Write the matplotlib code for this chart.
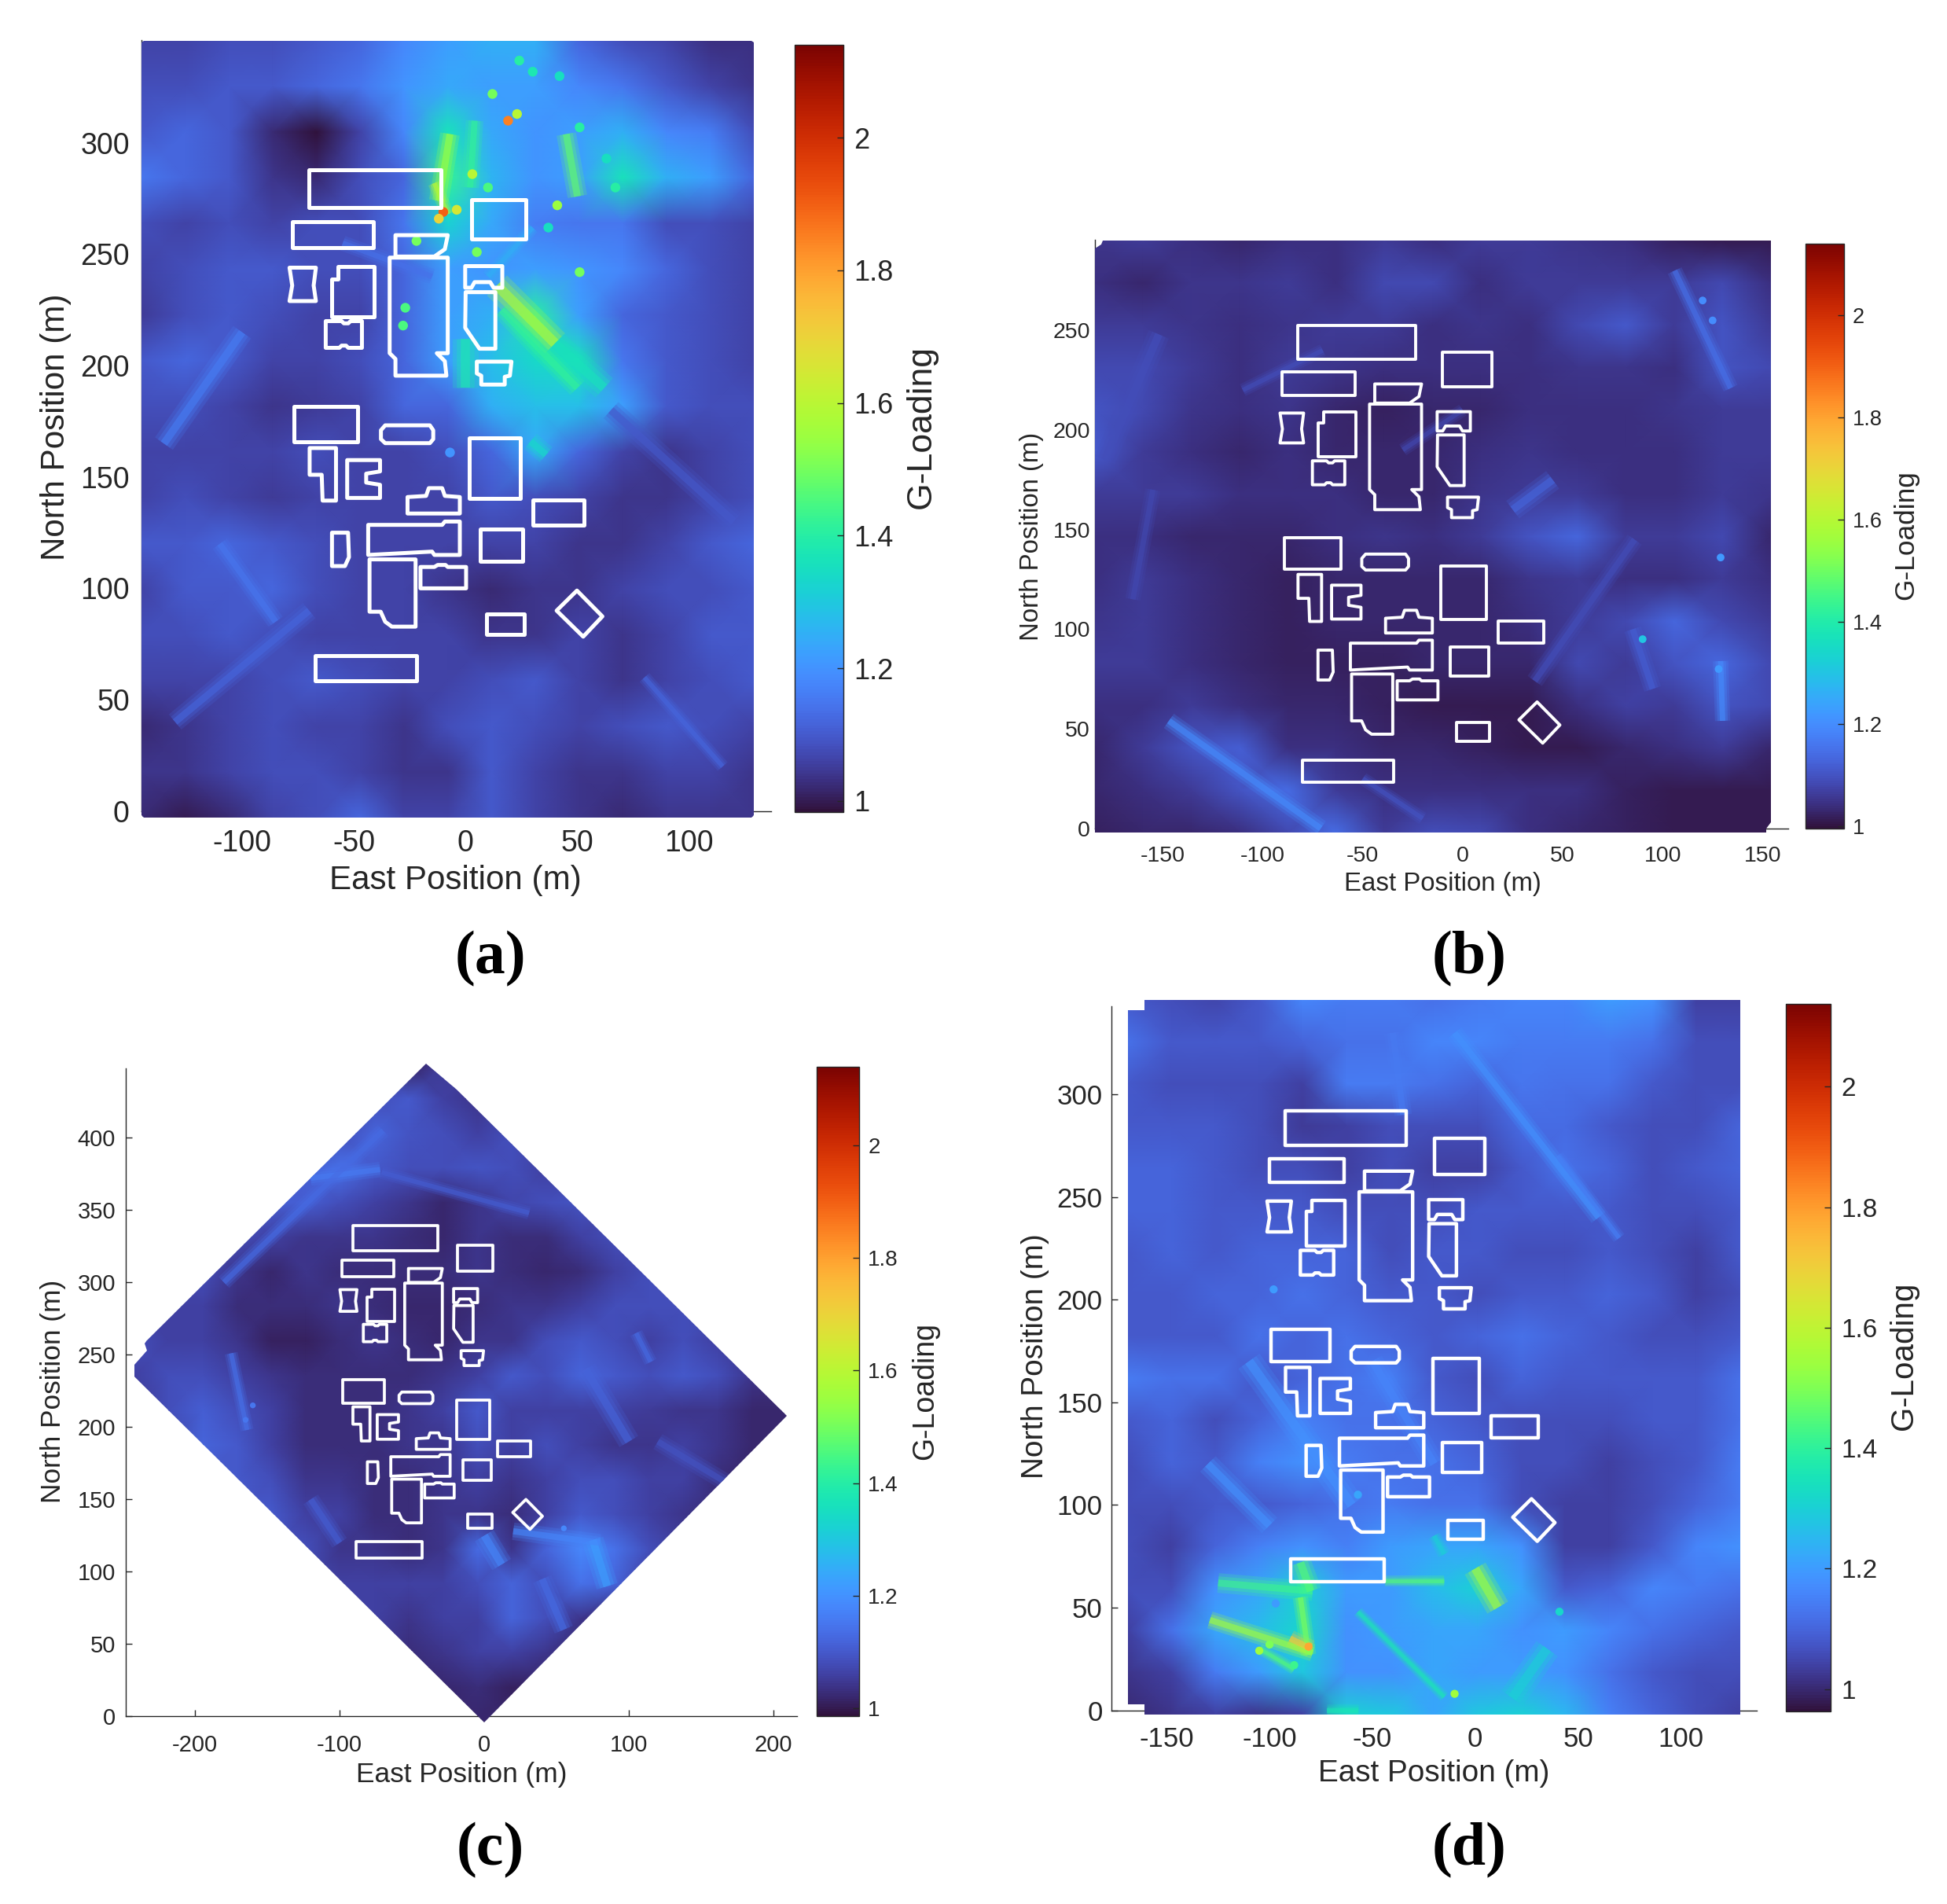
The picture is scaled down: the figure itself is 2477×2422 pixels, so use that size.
import numpy as np
import matplotlib
matplotlib.use("Agg")
import matplotlib.pyplot as plt
from matplotlib.patches import Polygon
from matplotlib.collections import LineCollection
from matplotlib.colors import Normalize
from matplotlib.cm import ScalarMappable

plt.rcParams['font.family'] = ['Liberation Sans', 'DejaVu Sans']
plt.rcParams['axes.unicode_minus'] = False
W, H = 1568.0, 1533.0   # layout units

# G-loading x100, rows from north to south, columns from west to east
grid_a = [
 [106,106,108,108,110,112,118,122,125,125,112,108,106,103,103],
 [108,108,110,110,112,115,120,124,122,122,118,115,110,106,104],
 [110,112,110,102, 98,106,118,136,124,120,122,125,118,116,108],
 [115,112,110,104,102,108,112,142,126,120,122,136,125,122,112],
 [108,106,108,106,108,108,115,132,124,116,115,115,108,108,106],
 [106,108,110,110,108,108,112,122,120,122,120,118,112,108,106],
 [105,108,110,108,106,106,112,122,125,140,122,112,110,108,106],
 [110,112,110,106,106,108,112,122,128,134,136,115,110,108,106],
 [108,108,106,104,105,106,112,112,125,128,128,122,110,108,108],
 [106,106,106,106,108,106,106,108,112,124,112,106,104,106,108],
 [106,108,106,105,106,106,106,106,110,108,106,104,104,106,108],
 [110,110,112,110,108,106,106,106,106,106,104,104,106,110,112],
 [106,110,110,112,108,106,106,104,102,104,104,106,108,108,110],
 [108,108,110,108,106,106,106,106,104,104,106,104,106,110,110],
 [106,106,106,108,110,108,106,106,108,110,106,104,106,108,110],
 [102,104,106,108,106,106,104,108,110,108,106,108,110,108,106],
 [104,104,106,108,108,106,104,104,110,106,104,104,106,106,104],
 [102,100,102,106,108,112,106,106,110,106,104,102,104,104,104],
]
grid_b = [
 [105,106,104,103,104,104,106,104,106,106,105,104,102,101,101],
 [104,103,105,105,106,104,108,108,104,106,106,106,106,108,104],
 [106,106,105,104,105,106,106,104,105,104,108,111,106,110,106],
 [108,108,106,104,106,105,104,104,104,104,105,105,104,110,108],
 [110,108,105,104,105,103,102,103,103,104,104,104,105,106,106],
 [111,106,104,103,104,103,103,103,104,105,104,104,104,106,106],
 [106,106,106,104,104,104,103,103,105,106,106,104,104,106,105],
 [104,104,103,103,103,104,105,104,106,110,113,106,106,108,103],
 [104,106,104,103,102,103,103,103,103,105,106,104,104,106,104],
 [105,106,104,103,102,103,103,103,103,104,106,108,113,108,106],
 [106,106,104,103,102,102,102,103,103,103,108,106,110,113,108],
 [104,104,106,104,103,103,102,101,101,101,104,107,106,110,108],
 [103,106,110,112,104,104,103,103,102,101,101,103,104,106,103],
 [103,104,106,110,114,106,104,104,104,104,104,102,101,101,101],
 [102,103,103,104,108,114,106,109,108,104,103,102,101,101,101],
]
grid_c = [
 [105,105,105,105,105,105,105,105,101,105,105,105,105,105,105,105,105,105,105,105],
 [105,105,105,105,105,105,105,108,110,106,104,106,106,105,105,105,105,105,105,105],
 [105,105,105,105,105,105,108,112,109,108,106,108,106,106,105,105,105,105,105,105],
 [105,105,105,105,108,111,114,110,108,108,109,108,106,106,106,105,105,105,105,105],
 [105,105,105,109,111,111,108,106,104,102,104,107,108,109,106,106,105,105,105,105],
 [105,105,108,108,106,104,104,104,103,102,104,103,103,106,108,108,105,105,105,105],
 [105,106,108,104,102,104,103,103,103,103,104,103,102,103,106,108,108,105,105,105],
 [105,106,106,103,103,103,104,103,102,102,103,104,104,106,108,108,108,108,105,105],
 [108,106,106,104,101,101,103,104,103,102,104,104,108,110,108,106,108,106,104,105],
 [106,108,108,106,104,103,103,103,103,104,106,110,108,112,110,108,110,108,104,103],
 [104,108,111,108,106,103,103,103,104,106,110,106,106,106,106,105,104,104,102,102],
 [105,105,112,110,106,103,103,103,104,104,108,106,108,106,104,104,106,104,102,102],
 [105,105,108,110,108,104,104,103,103,104,106,104,106,108,108,106,106,103,102,102],
 [105,105,105,108,110,106,106,103,103,104,104,103,106,110,108,106,104,103,102,105],
 [105,105,105,105,108,108,104,104,103,104,113,104,112,118,114,108,105,105,105,105],
 [105,105,105,105,105,106,106,106,106,106,108,112,108,114,112,105,105,105,105,105],
 [105,105,105,105,105,105,106,106,104,106,106,112,108,104,102,105,105,105,105,105],
 [105,105,105,105,105,105,105,105,103,104,106,106,104,102,102,105,105,105,105,105],
 [105,105,105,105,105,105,105,105,102,102,103,101,102,102,105,105,105,105,105,105],
 [105,105,105,105,105,105,105,105,102,102,102,102,102,105,105,105,105,105,105,105],
]
grid_d = [
 [108,106,105,108,116,114,114,112,114,116,116,120,118,104,104],
 [112,108,108,108,110,112,112,116,116,114,114,114,112,106,106],
 [108,106,106,106,104,114,114,112,110,113,112,112,108,106,106],
 [108,108,108,106,103,104,106,106,106,111,111,108,106,106,110],
 [110,110,108,106,106,104,106,104,104,108,112,110,106,108,110],
 [110,110,108,108,108,106,106,106,108,108,108,108,106,106,108],
 [108,110,108,110,110,110,106,108,108,106,106,108,106,104,108],
 [108,108,110,110,112,110,108,108,106,108,108,110,108,104,106],
 [108,108,108,112,110,112,110,108,110,112,110,108,106,106,108],
 [114,112,112,108,110,112,115,108,106,110,108,108,108,108,112],
 [108,110,106,110,115,112,112,110,108,106,106,106,108,108,112],
 [106,110,108,115,118,114,112,112,110,106,106,104,106,108,114],
 [106,106,108,108,110,112,114,112,112,106,104,104,106,110,114],
 [106,104,110,115,118,115,120,122,122,118,104,104,108,116,118],
 [106,106,118,122,130,120,120,126,130,122,108,110,116,114,112],
 [104,112,122,126,132,118,120,122,122,118,120,116,112,110,108],
 [102,104,114,120,128,118,118,122,120,120,118,112,108,106,106],
 [100,102,104,102,104,130,128,122,128,130,125,115,110,106,104],
]

# extents of each surveyed area (m)
outline_a = [(-145,-2),(-144,-3),(128,-3),(129,-2),(129,345),(128,346),(-144,346),(-145,345)]
outline_b = [(-184,-2),(152,-2),(152,0),(154,3),(154,295),(-180,295),(-181,293),(-184,291)]
outline_c = [(-40,451),(-19,433),(209,208),(0,-4),(-242,235),(-242,243),(-233,253),(-235,258),(-233,260)]
outline_d = [(-161,-2),(129,-2),(129,346),(-161,346),(-161,341),(-169,341),(-169,3),(-161,3)]

# narrow streaks: x0, y0, x1, y1, G-loading, width (pt)
streaks_a = [(-7,304,-12,274,1.55,9),(4,310,2,280,1.42,8),(14,236,40,210,1.58,13),(40,210,62,190,1.36,12),
             (45,304,50,276,1.48,9),(0,212,0,190,1.38,12),(29,166,36,160,1.34,9),(-14,282,-8,268,1.6,6),
             (10,240,30,262,1.25,6),(16,225,50,190,1.42,9),(-135,165,-100,215,1.16,10),(-110,120,-85,85,1.15,8),
             (65,180,120,130,1.1,10),(-130,40,-70,90,1.12,9),(-55,255,-15,240,1.14,7),(80,60,115,20,1.12,6)]
streaks_b = [(-147,54,-71,0,1.2,8),(106,280,134,221,1.15,7),(129,84,130,54,1.2,7),(36,74,86,145,1.09,8),
             (-179,185,-152,248,1.09,10),(-110,220,-70,240,1.09,6),(-30,190,0,210,1.08,6),(25,160,45,175,1.13,10),
             (85,100,95,70,1.12,8),(-165,115,-155,170,1.08,7),(-50,25,-20,5,1.1,6)]
streaks_c = [(-164,198,-175,251,1.14,6),(-120,372,-72,378,1.16,7),(-71,376,31,348,1.11,6),(-180,300,-70,405,1.13,7),
             (75,122,85,90,1.22,10),(20,128,80,120,1.18,8),(0,125,12,105,1.18,10),(70,240,100,190,1.12,10),
             (105,265,115,245,1.13,6),(-120,150,-100,120,1.11,8),(40,95,55,60,1.13,9),(120,190,170,160,1.09,8)]
streaks_d = [(-129,44,-79,28,1.55,8),(-85,55,-81,27,1.5,7),(-125,62,-79,58,1.42,9),(-85,72,-80,58,1.45,10),
             (-57,48,-15,6.5,1.36,5),(-44,63,-15,63,1.45,5),(0,69,11,50,1.55,11),(18,6,35,30,1.3,12),
             (-72,0,-57,0,1.36,6),(-105,30,-88,20,1.45,5),(-20,85,-15,76,1.3,6),(-90,35,-80,30,1.72,8),
             (-10,330,60,240,1.18,8),(40,270,70,230,1.15,6),(-110,170,-60,100,1.18,12),(-50,170,-20,120,1.16,10),
             (-40,330,-35,290,1.14,8),(-130,120,-100,90,1.18,10)]

# isolated cells: x, y, G-loading
cells_a = [(19,310,1.85),(-10,269,1.9),(23,313,1.6),(12,322,1.5),(51,307,1.4),(3,286,1.6),(63,293,1.35),(67,280,1.4),
           (42,330,1.35),(41,272,1.55),(-22,256,1.5),(5,251,1.5),(51,242,1.5),(-27,226,1.45),(-28,218,1.45),
           (-7,161,1.2),(-12,266,1.7),(-4,270,1.65),(24,337,1.4),(30,332,1.38),(10,280,1.45),(37,262,1.35)]
cells_b = [(90,95,1.3),(129,136,1.22),(125,255,1.2),(120,265,1.2),(128,80,1.22)]
cells_c = [(-165,205,1.15),(-160,215,1.15),(55,130,1.18)]
cells_d = [(-81,31,1.78),(-100,32,1.5),(-88,22,1.42),(-105,29,1.55),(41,48,1.32),(-10,8,1.55),(-97,52,1.2),(-57,105,1.22),(-98,205,1.2)]

# building outlines (m), in the frame of panel (a)
buildings = [
 [(-70,288),(-11,288),(-11,271),(-70,271)],
 [(-77.6,264.6),(-41.4,264.6),(-41.4,253),(-77.6,253)],
 [(2.6,274.7),(27,274.7),(27,257),(2.6,257)],
 [(-31.4,258.6),(-8,258.6),(-9.3,252.3),(-14,249),(-31.4,249)],
 [(-34,248.5),(-8,248.5),(-8,205.6),(-12.9,205.6),(-9.3,202),(-8.6,195.5),(-31.4,195.5),(-31.4,203),(-34,205.6)],
 [(-78.8,244),(-67,244),(-68,236),(-67,229),(-78.8,229),(-77.6,236)],
 [(-57,244.4),(-41,244.4),(-41,222),(-59.8,222),(-59.8,239),(-57,239)],
 [(-62.6,220),(-55.5,220),(-54.5,219),(-52.5,219),(-51.5,220),(-46.4,220),(-46.4,208),(-52.5,208),(-53.5,209),(-55.5,209),(-56.5,208),(-62.6,208)],
 [(-0.2,244.7),(16.4,244.7),(16.4,235),(12.5,235),(11,237.5),(4,237.5),(2.6,235),(-0.2,235)],
 [(0,233),(13.3,233),(13.3,207.6),(6.2,207.6),(-0.2,217)],
 [(5,201.8),(20.5,201.8),(19.8,195.5),(17.5,195),(17.5,191.5),(7,191.5),(7,195.5),(5,196.5)],
 [(-76.7,181.6),(-48.3,181.6),(-48.3,165.7),(-76.7,165.7)],
 [(-36,173.2),(-16,173.2),(-14.5,171),(-14.5,167),(-16,165.2),(-36,165.2),(-37.9,167),(-37.9,171)],
 [(1.7,167.4),(24.5,167.4),(24.5,140.4),(1.7,140.4)],
 [(-69.8,163),(-58,163),(-58,139.4),(-64,139.4),(-64.4,151),(-69.8,151)],
 [(-53,157.6),(-38.3,157.6),(-38.3,152.5),(-44.5,151.5),(-44.5,147.5),(-38.3,146.5),(-38.3,140.6),(-53,140.6)],
 [(-26,141),(-17.7,141.5),(-16.5,145),(-10.5,145),(-9.3,141.5),(-2.6,141),(-2.6,133.6),(-26,133.6)],
 [(30.2,139.6),(53,139.6),(53,128.5),(30.2,128.5)],
 [(-43.6,128.5),(-10.5,128.5),(-9.3,130),(-2.6,130),(-2.6,115),(-14,115),(-15,116.5),(-43.6,115)],
 [(6.4,126.5),(25.7,126.5),(25.7,112),(6.4,112)],
 [(-59.8,125),(-52.6,125),(-52.2,114),(-54,110),(-59.8,110)],
 [(-43,113),(-22.4,113),(-22.4,82.8),(-33,82.8),(-36,85),(-38,89.5),(-43,89.5)],
 [(-20.2,109.6),(-14,109.6),(-12.5,110.5),(-9,110.5),(-8,109.6),(0.2,109.6),(0.2,100),(-20.2,100)],
 [(9.3,88.6),(26.2,88.6),(26.2,79.3),(9.3,79.3)],
 [(49.8,99),(61.2,87.4),(52.6,78.3),(40.7,90)],
 [(-67.4,69.7),(-21.9,69.7),(-21.9,58.6),(-67.4,58.6)],
]
building_shift_a = (0, 0)
building_shift_b = (-12.6, -35.5)
building_shift_c = (-21, 51)
building_shift_d = (-22.4, 4)

xticks_a = [-100,-50,0,50,100]; yticks_a = [0,50,100,150,200,250,300]
xticks_b = [-150,-100,-50,0,50,100,150]; yticks_b = [0,50,100,150,200,250]
xticks_c = [-200,-100,0,100,200]; yticks_c = [0,50,100,150,200,250,300,350,400]
xticks_d = [-150,-100,-50,0,50,100]; yticks_d = [0,50,100,150,200,250,300]
cbar_ticks = [1,1.2,1.4,1.6,1.8,2]
cbar_labels = ['1','1.2','1.4','1.6','1.8','2']
captions = ['(a)','(b)','(c)','(d)']

panels = [
 dict(grid=grid_a, outline=outline_a, streaks=streaks_a, cells=cells_a, shift=building_shift_a, xticks=xticks_a, yticks=yticks_a,
      box=(114,621,32,653), x0=375, kx=1.8, y0=653, ky=1.793, ts=27, lab=30.3, gl=32, padx=17, pady=11, blw=3.6, ms=80,
      cb=(640,679,36,654), cbl=(0.983,2.14), cbp=10, xl=(367,709), yl=(45,344), gp=(742,344), cap=(395,772)),
 dict(grid=grid_b, outline=outline_b, streaks=streaks_b, cells=cells_b, shift=building_shift_b, xticks=xticks_b, yticks=yticks_b,
      box=(882,1440,193,667), x0=1178, kx=1.61, y0=667, ky=1.604, ts=20.5, lab=23.8, gl=25.4, padx=16, pady=4.5, blw=2.8, ms=50,
      cb=(1454,1485,196,667), cbl=(0.995,2.14), cbp=8, xl=(1162,712), yl=(831,432), gp=(1535,431), cap=(1183,772)),
 dict(grid=grid_c, outline=outline_c, streaks=streaks_c, cells=cells_c, shift=building_shift_c, xticks=xticks_c, yticks=yticks_c,
      box=(101,642,860,1382), x0=390, kx=1.165, y0=1382, ky=1.165, ts=21, lab=25.4, gl=27, padx=16, pady=9, blw=2.7, ms=28,
      cb=(658,692,859,1382), cbl=(0.985,2.14), cbp=8, xl=(372,1429), yl=(43,1120), gp=(745,1120), cap=(395,1490)),
 dict(grid=grid_d, outline=outline_d, streaks=streaks_d, cells=cells_d, shift=building_shift_d, xticks=xticks_d, yticks=yticks_d,
      box=(895,1415,810,1377), x0=1188, kx=1.656, y0=1377, ky=1.653, ts=25, lab=27.9, gl=29, padx=15, pady=8, blw=3.2, ms=55,
      cb=(1438,1474,808,1378), cbl=(0.963,2.138), cbp=10, xl=(1155,1428), yl=(834,1092), gp=(1533,1092), cap=(1183,1490)),
]

fig = plt.figure(figsize=(24.77, 24.22), dpi=100, facecolor='white')
cmap = matplotlib.colormaps['turbo']
dark = '#262626'

for p in panels:
    l, r, t, b = p['box']
    ax = fig.add_axes([l/W, 1-b/H, (r-l)/W, (b-t)/H])
    ax.set_xlim((l-p['x0'])/p['kx'], (r-p['x0'])/p['kx'])
    ax.set_ylim((p['y0']-b)/p['ky'], (p['y0']-t)/p['ky'])
    norm = Normalize(*p['cbl'])
    Z = np.array(p['grid'], float)/100
    ol = np.array(p['outline'])
    xs = np.linspace(ol[:,0].min(), ol[:,0].max(), Z.shape[1])
    ys = np.linspace(ol[:,1].max(), ol[:,1].min(), Z.shape[0])
    X, Y = np.meshgrid(xs, ys)
    clip = Polygon(ol, closed=True, transform=ax.transData, fc='none', ec='none')
    ax.add_patch(clip)
    clip.set_clip_on(False)
    mesh = ax.pcolormesh(X, Y, Z, shading='gouraud', cmap=cmap, norm=norm, zorder=1)
    mesh.set_clip_box(fig.bbox); mesh.set_clip_path(clip)
    segs = [[(s[0],s[1]),(s[2],s[3])] for s in p['streaks']]
    widths = np.array([s[5] for s in p['streaks']], float)
    vals = np.array([s[4] for s in p['streaks']])
    for wf, al in ((2.0,0.22),(1.35,0.30),(0.7,0.60)):
        lc = LineCollection(segs, cmap=cmap, norm=norm, linewidths=widths*wf, capstyle='butt', alpha=al, zorder=2)
        lc.set_array(vals)
        ax.add_collection(lc, autolim=False)
        lc.set_clip_box(fig.bbox); lc.set_clip_path(clip)
    cx, cy, cv = zip(*p['cells'])
    sc = ax.scatter(cx, cy, c=cv, cmap=cmap, norm=norm, s=p['ms'], linewidths=0, zorder=3)
    dx, dy = p['shift']
    for bd in buildings:
        ax.add_patch(Polygon(np.array(bd)+(dx,dy), closed=True, fill=False, ec='white',
                             lw=p['blw'], joinstyle='round', zorder=4))
    for s in ('top','right'):
        ax.spines[s].set_visible(False)
    for s in ('left','bottom'):
        ax.spines[s].set_color(dark); ax.spines[s].set_linewidth(1.0); ax.spines[s].set_zorder(0.5)
    ax.set_axisbelow(True)
    ax.set_xticks(p['xticks']); ax.set_yticks(p['yticks'])
    ax.tick_params(axis='x', direction='in', length=6, width=1, color=dark, labelcolor=dark, labelsize=p['ts'], pad=p['padx'])
    ax.tick_params(axis='y', direction='in', length=6, width=1, color=dark, labelcolor=dark, labelsize=p['ts'], pad=p['pady'])
    # colour bar
    cl, cr, ct, cb = p['cb']
    cax = fig.add_axes([cl/W, 1-cb/H, (cr-cl)/W, (cb-ct)/H])
    cbar = fig.colorbar(ScalarMappable(norm=norm, cmap=cmap), cax=cax)
    cbar.set_ticks(cbar_ticks, labels=cbar_labels)
    cbar.outline.set_edgecolor(dark); cbar.outline.set_linewidth(1.0)
    cax.tick_params(direction='in', length=6, width=1, color=dark, labelcolor=dark, labelsize=p['ts']-1, pad=p['cbp'])
    # labels
    fig.text(p['xl'][0]/W, 1-p['xl'][1]/H, 'East Position (m)', ha='center', va='center', fontsize=p['lab'], color=dark)
    fig.text(p['yl'][0]/W, 1-p['yl'][1]/H, 'North Position (m)', ha='center', va='center', rotation=90, fontsize=p['lab'], color=dark)
    fig.text(p['gp'][0]/W, 1-p['gp'][1]/H, 'G-Loading', ha='center', va='center', rotation=90, fontsize=p['gl'], color=dark)

for p, c in zip(panels, captions):
    fig.text(p['cap'][0]/W, 1-p['cap'][1]/H, c, ha='center', va='center', fontsize=56, fontweight='bold',
             family=['Liberation Serif','DejaVu Serif'], color='black')

fig.savefig('out.png', dpi=100)
